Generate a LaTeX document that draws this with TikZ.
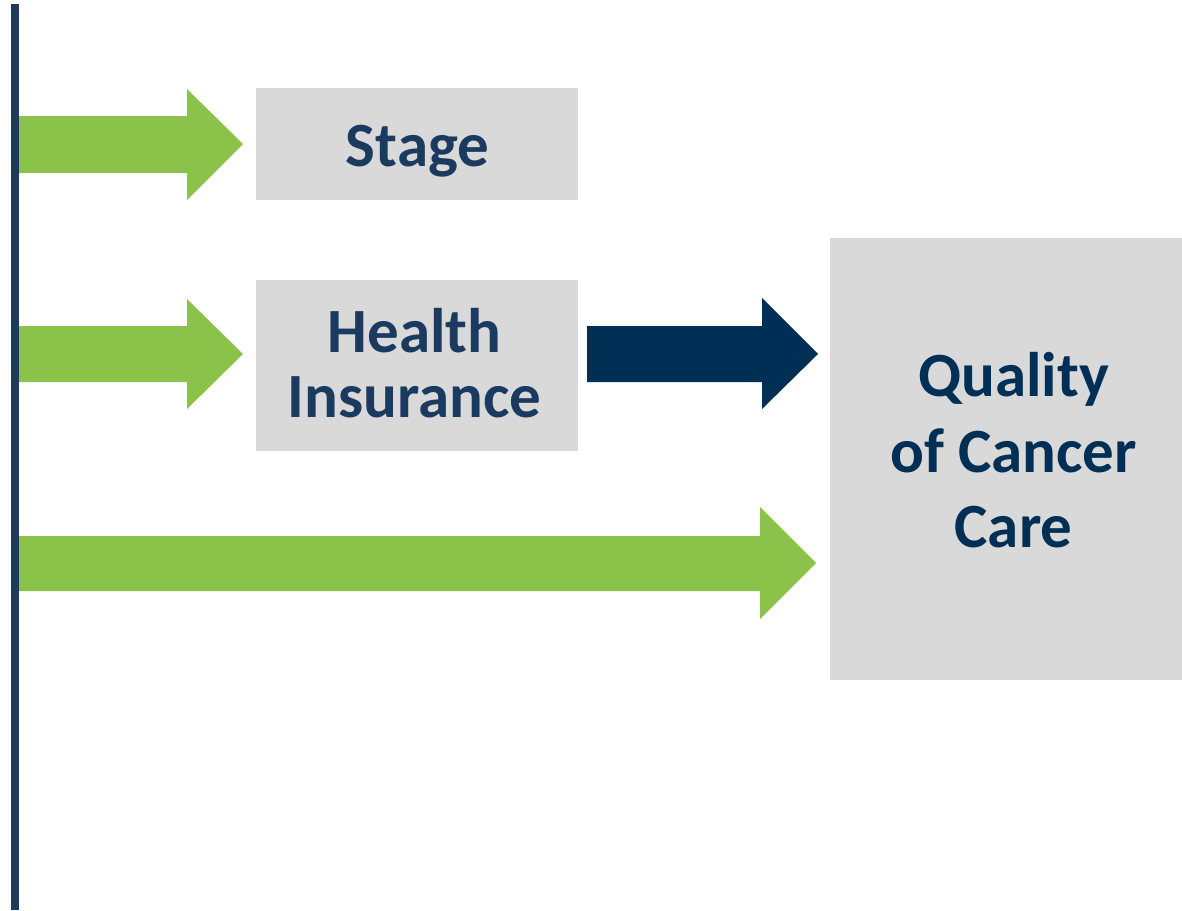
\documentclass[tikz,border=0pt]{standalone}
\usepackage{fontspec}
\setmainfont{Carlito}
\definecolor{grn}{RGB}{139,195,74}
\definecolor{boxgray}{RGB}{217,217,217}
\definecolor{linenavy}{RGB}{31,58,96}
\definecolor{txtnavy}{RGB}{27,58,95}
\definecolor{darknavy}{RGB}{0,47,86}
\begin{document}
\begin{tikzpicture}[x=1pt,y=-1pt,
  box/.style={fill=boxgray,draw=none,rectangle,inner sep=0pt},
  lbl/.style={anchor=base,inner sep=0pt,font=\fontsize{63}{65}\bfseries\selectfont},
  green arrow/.style={fill=grn,draw=none},
  navy arrow/.style={fill=darknavy,draw=none}]
\useasboundingbox (0,0) rectangle (1182,910);
% vertical bar
\coordinate (top) at (15,4);
\coordinate (bot) at (15,910);
\draw[linenavy,line width=8pt] (top) -- (bot);
% boxes
\node[box,minimum width=322pt,minimum height=112pt] (stage) at (417,144) {};
\node[box,minimum width=322pt,minimum height=171pt] (health) at (417,365.5) {};
\node[box,minimum width=352pt,minimum height=442pt] (quality) at (1006,459) {};
% texts
\node[lbl,text=txtnavy] (t1) at (417.5,166) {Stage};
\node[lbl,text=txtnavy] (t2) at (414.5,352) {Health};
\node[lbl,text=txtnavy] (t3) at (414.5,417) {Insurance};
\node[lbl,text=darknavy] (t4) at (1013.5,396) {Quality};
\node[lbl,text=darknavy] (t5) at (1013.5,472) {of Cancer};
\node[lbl,text=darknavy] (t6) at (1013.5,547) {Care};
% arrows
\fill[green arrow] (19,116) -- (187,116) -- (187,89) -- (243,144) -- (187,200) -- (187,173) -- (19,173) -- cycle;
\fill[green arrow] (19,326) -- (187,326) -- (187,299) -- (243,354) -- (187,409) -- (187,382) -- (19,382) -- cycle;
\fill[green arrow] (19,536) -- (760,536) -- (760,507) -- (816,563) -- (760,619) -- (760,591) -- (19,591) -- cycle;
\fill[navy arrow] (587,326) -- (762,326) -- (762,298) -- (818,354) -- (762,409) -- (762,382) -- (587,382) -- cycle;
\end{tikzpicture}
\end{document}
